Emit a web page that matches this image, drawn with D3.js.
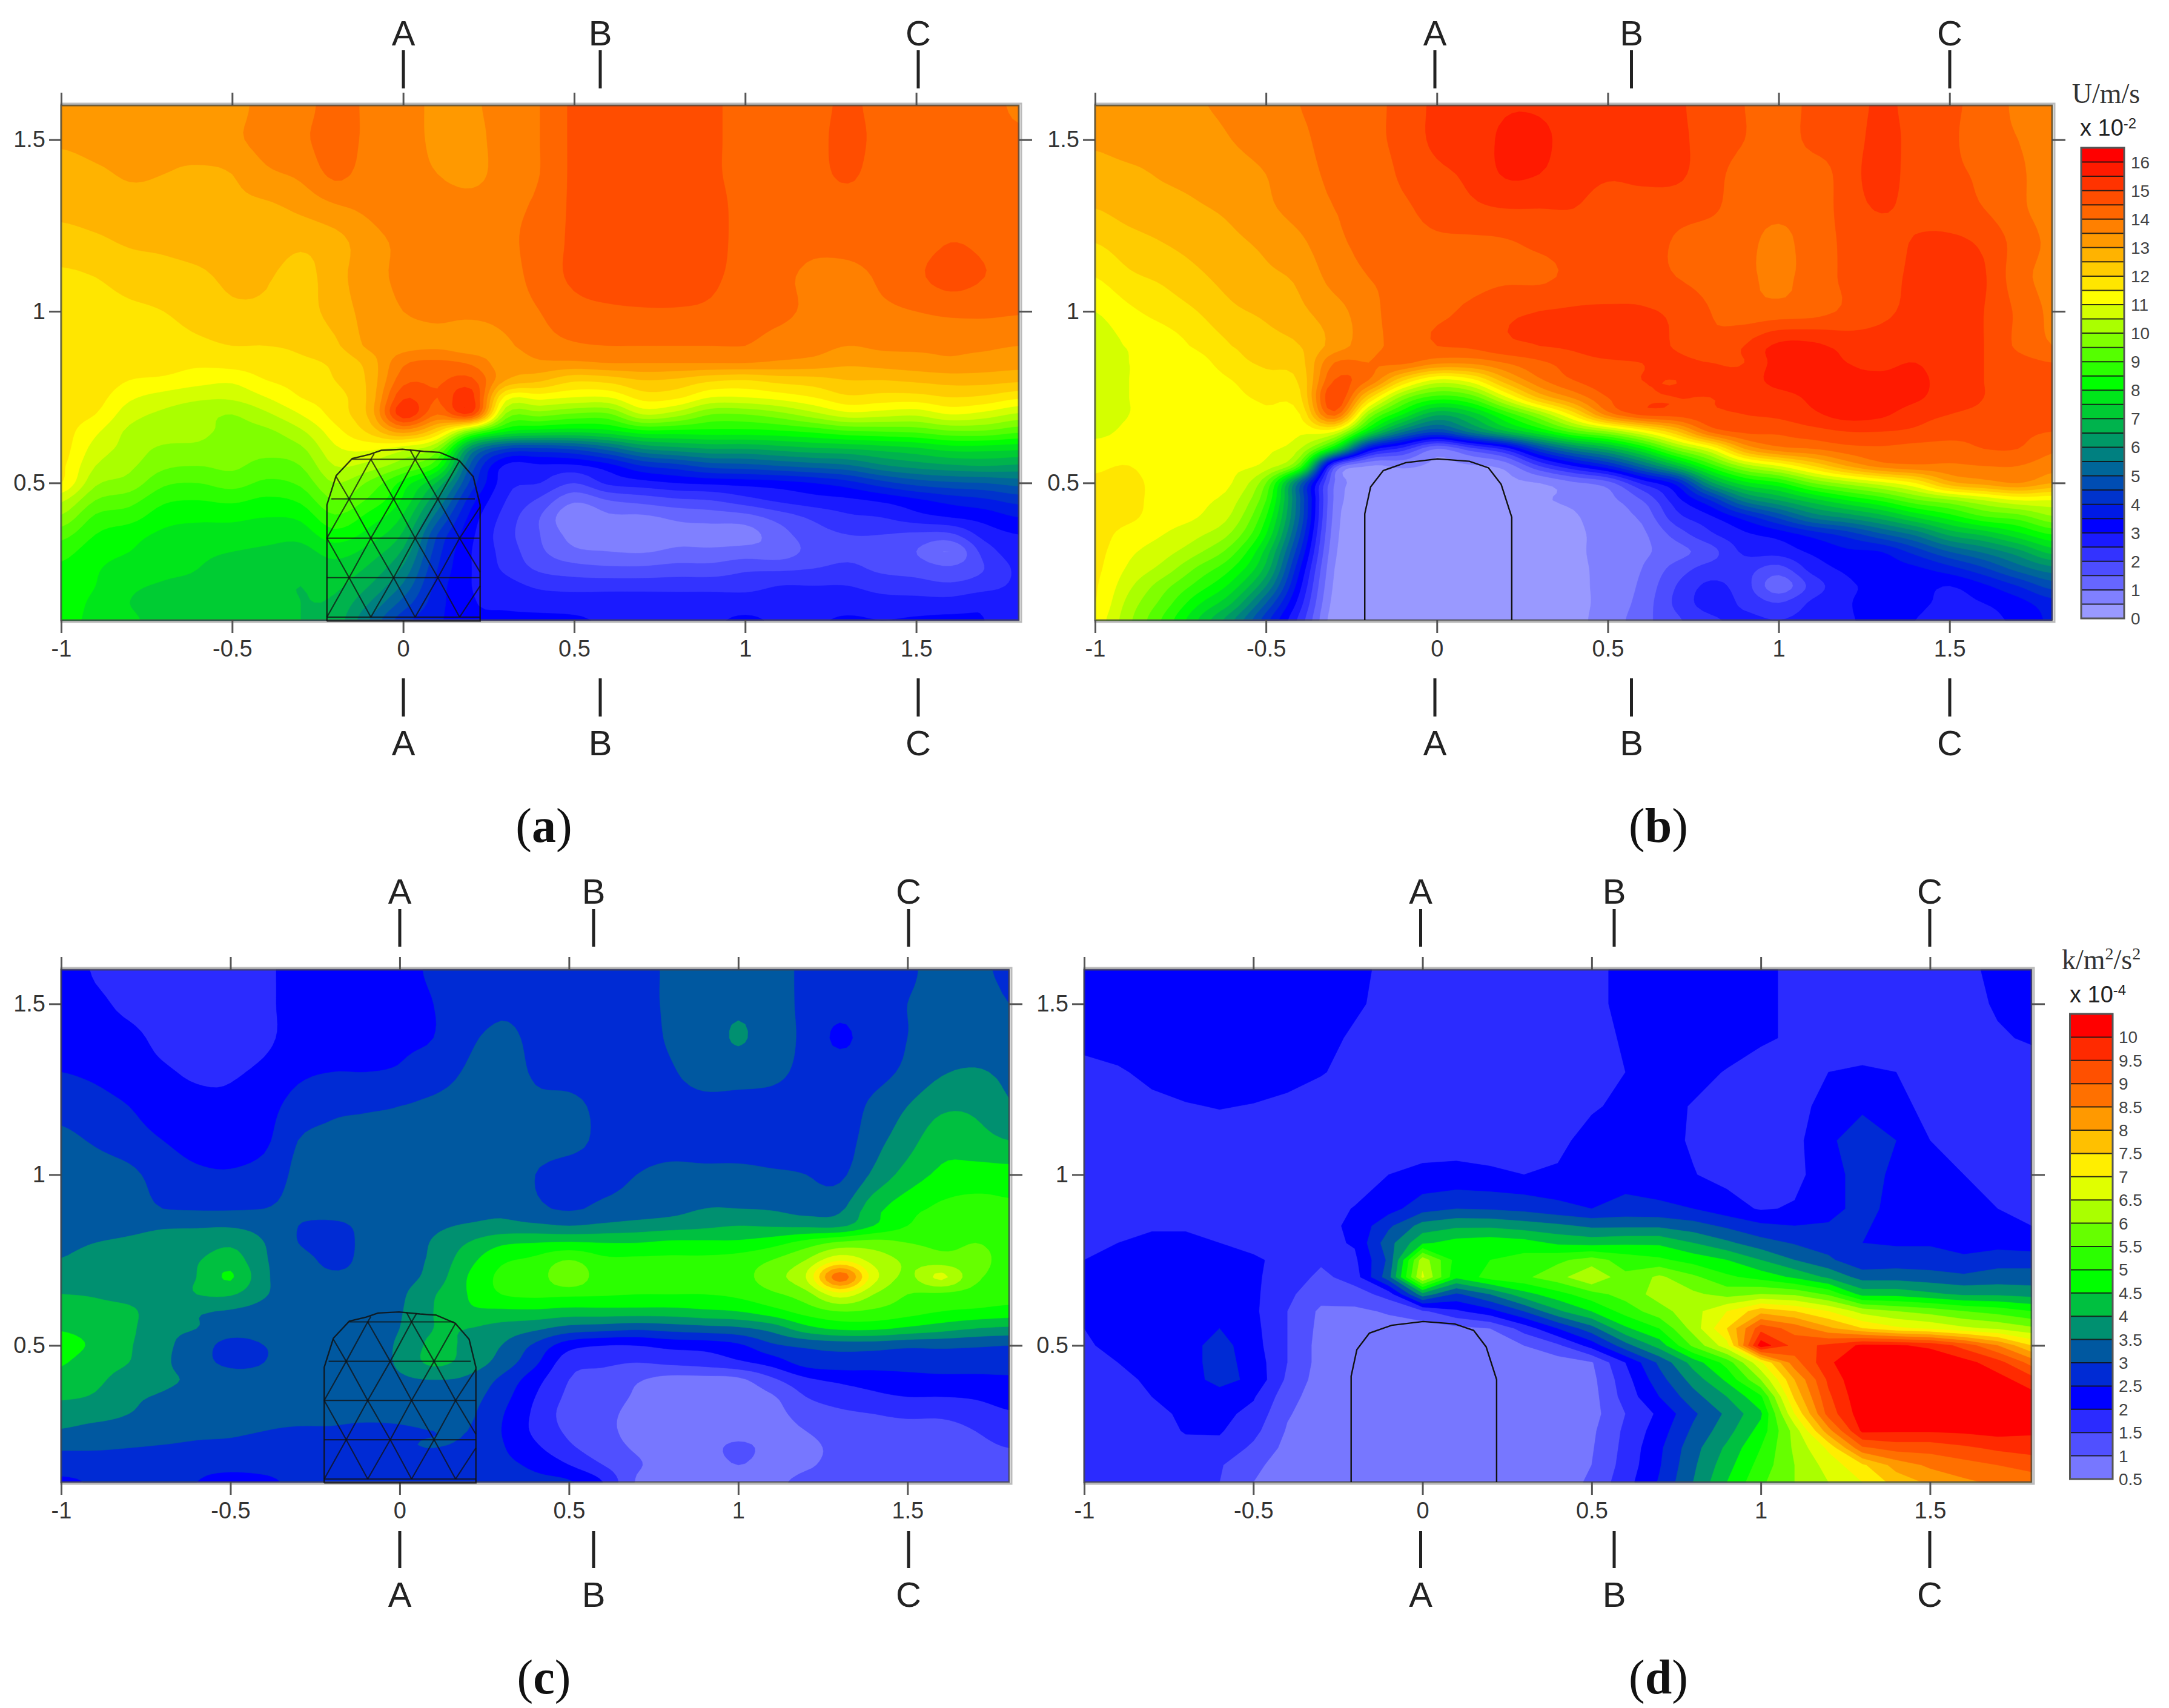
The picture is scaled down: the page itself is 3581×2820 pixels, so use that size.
<!DOCTYPE html>
<html><head><meta charset="utf-8">
<script src="https://cdn.jsdelivr.net/npm/d3@7"></script>
<style>html,body{margin:0;background:#fff}svg{display:block}</style></head><body>
<svg id="c" width="3581" height="2820"></svg>
<script>
const xGrid=[-1,-.9,-.8,-.7,-.6,-.5,-.4,-.3,-.2,-.1,0,.1,.2,.3,.4,.5,.6,.7,.8,.9,1,1.1,1.2,1.3,1.4,1.5,1.6,1.7,1.8];
const yGrid=[1.6,1.5,1.4,1.3,1.2,1.1,1,.9,.85,.8,.75,.7,.65,.6,.55,.5,.45,.4,.35,.3,.25,.2,.15,.1];
const uA=[
[13.3,13.3,13.3,13.3,13.3,13.3,13.7,13.8,14.2,13.9,13.7,13.4,13.4,13.8,14,14.6,14.8,14.8,14.8,14.6,14.3,14.2,14.3,14.6,14.3,14.3,14.3,14.2,13.9],
[13.1,13.2,13.2,13.2,13.3,13.4,13.7,13.9,14.2,13.9,13.7,13.4,13.3,13.8,14,14.6,14.8,14.8,14.8,14.6,14.3,14.2,14.3,14.7,14.3,14.3,14.3,14.2,14.1],
[12.7,12.9,13.05,13,12.9,13,13.4,13.6,14.1,13.8,13.7,13.5,13.3,13.8,14,14.6,14.8,14.8,14.8,14.6,14.3,14.2,14.3,14.6,14.2,14.2,14.2,14.2,14.2],
[12.6,12.7,12.8,12.8,12.8,12.9,12.9,13.1,13.4,13.6,13.8,13.8,13.8,13.9,14.1,14.6,14.8,14.8,14.8,14.7,14.3,14.2,14.2,14.2,14.2,14.2,14.3,14.3,14.3],
[12.3,12.4,12.55,12.6,12.7,12.8,12.8,12.6,12.8,13.3,13.6,13.7,13.8,13.9,14.2,14.6,14.8,14.8,14.8,14.7,14.3,14.2,14.1,14.2,14.3,14.3,14.5,14.4,14.2],
[11.9,12,12.2,12.3,12.4,12.6,12.55,12.3,12.8,13.3,13.6,13.7,13.7,13.8,14.2,14.6,14.8,14.8,14.8,14.6,14.3,14.1,13.9,13.8,14.1,14.4,14.7,14.5,14.3],
[11.8,11.8,11.9,12,12.2,12.4,12.4,12.3,12.7,13.2,13.5,13.6,13.6,13.7,14,14.3,14.4,14.45,14.45,14.4,14.2,14.1,13.9,13.8,13.9,14,14.1,14.1,14.05],
[11.6,11.6,11.7,11.8,11.9,12,12,12.1,12.4,13.1,13.3,13.4,13.2,13.4,13.8,13.95,14,14,14,14,14,13.8,13.7,13.5,13.6,13.6,13.6,13.6,13.5],
[11.7,11.7,11.7,11.7,11.6,11.7,11.8,11.9,12.1,12.7,13.9,14.1,13.9,13.2,13.4,13.4,13.5,13.5,13.5,13.5,13.5,13.4,13.3,13.1,13.2,13.3,13.4,13.3,13.2],
[11.8,11.8,11.5,11.4,11.2,11.1,11.5,11.7,12,12.6,14.3,14.4,14.6,13,12.6,12.1,12.2,12.5,12.4,12.1,12,12.2,12.3,12.5,12.5,12.6,12.7,12.7,12.6],
[11.8,11.7,11.1,10.8,10.6,10.6,11,11.5,11.8,12.6,14.9,14.5,15.2,11.3,11.2,11,11,11.7,11.6,11,11,11.2,11.5,11.9,11.8,11.8,12,11.9,11.6],
[11.7,11.5,10.7,10.4,10.2,10,10.4,11,11.7,12.6,15.3,14,14.8,9.9,9.7,9.4,9.4,10.5,10.2,9.5,9.5,9.8,10.3,10.8,10.7,10.6,11,10.8,10.4],
[11.7,11.1,10.4,10.3,10.1,9.9,9.9,10.4,11.3,12.1,13.2,12,9.5,8,7.7,7.6,7.8,8.3,8.3,8.3,8.3,8.4,8.6,8.9,9,9.1,9.4,9.4,9.1],
[11.7,10.8,10.3,9.9,9.9,9.8,9.7,9.9,10.9,11.1,10.7,9.8,6,4.5,4.4,4.6,5.2,6,6.3,6.5,6.5,6.7,6.9,7,7.2,7.4,7.7,7.7,7.6],
[11.6,10.5,10.1,9.6,9.5,9.6,9.3,9.5,10.5,10.3,9.6,8.5,4.8,2.9,2.9,2.9,3.3,4,4.3,4.7,4.8,5,5.2,5.4,5.9,6.2,6.4,6.5,6.4],
[11.5,10.1,9.8,9.1,9,9.2,8.9,9.1,10,9.4,8.3,6.9,4.3,2.7,2.5,2,2.6,2.8,3,3.1,3.2,3.3,3.5,3.8,4.3,4.7,4.9,5,5.2],
[10.6,9.5,9.2,8.6,8.5,8.6,8.4,8.6,9.5,8.9,7.9,6,3.7,2.5,1.9,1.1,1.5,1.7,1.9,2,2.3,2.6,2.8,2.9,3.1,3.4,3.7,3.9,4.2],
[9.9,8.9,8.7,8.2,8.1,8.1,8,8.1,8.9,8.3,7.4,5.2,3.3,2.3,1.5,.55,.9,.9,1.1,1.2,1.3,1.7,2.1,2.4,2.5,2.8,3,3.2,3.5],
[9.2,8.5,8.2,7.9,7.8,7.8,7.7,7.7,8.3,7.8,6.9,4.5,3.1,2.2,1.5,.8,.8,.6,.85,.8,.8,1.3,1.8,2,2,1.9,1.9,2.7,3],
[8.7,8.2,8,7.7,7.6,7.5,7.4,7.3,7.7,7.3,6.4,4.2,3,2.3,1.6,1.1,1,.95,1.1,1.1,1.2,1.2,1.7,1.9,1.8,1.5,1,2.2,2.8],
[8.4,8.05,7.8,7.6,7.5,7.3,7.2,7.1,7.3,6.9,5.9,4,3,2.4,1.9,1.7,1.6,1.6,1.7,1.7,1.9,1.9,2,2.1,1.9,1.8,1.6,2,2.6],
[8.3,8,7.6,7.45,7.4,7.2,7.1,7,7.1,6.5,5.4,3.8,3,2.7,2.4,2.3,2.3,2.3,2.3,2.3,2.3,2.5,2.5,2.5,2.3,2.2,2.1,2.3,2.6],
[8.2,7.9,7.5,7.3,7.3,7.2,7.1,7,6.9,6,4.8,3.7,3.05,2.9,2.8,2.8,2.8,2.8,2.8,2.8,2.8,2.8,2.8,2.8,2.7,2.7,2.7,2.9,2.7],
[8.1,7.9,7.6,7.3,7.25,7.2,7.1,7,6.8,5.5,4.2,3.6,3.1,3.1,3.1,3.05,2.95,2.95,2.95,2.95,3.05,2.95,2.95,3.05,3,3.05,3.1,3,2.8]];
const uB=[
[13.5,13.2,13.2,13.45,13.6,13.8,14,14.2,14.3,14.7,15.1,15.2,15.45,15.45,15.3,15.2,15.2,15.1,14.7,14.5,14.3,14.6,14.7,15.1,14.8,14.6,14.3,13.9,13.7],
[13.1,13.2,13.2,13.3,13.5,13.7,13.9,14.2,14.3,14.7,15.1,15.2,15.6,15.6,15.3,15.2,15.2,15.1,14.8,14.5,14.3,14.6,14.7,15.2,14.8,14.6,14.2,14,13.7],
[12.8,12.9,13.05,13.15,13.3,13.5,13.8,14.1,14.1,14.6,14.9,15.1,15.55,15.5,15.2,15.05,15.1,15.1,14.7,14.3,14.3,14.3,14.7,15.3,14.7,14.6,14.4,14.1,13.7],
[12.5,12.7,12.8,12.95,13.1,13.4,13.7,14,14.1,14.4,14.7,14.9,15,15,15,14.8,14.8,14.7,14.6,14.2,14.1,14.2,14.7,15.05,14.8,14.7,14.5,14.1,13.8],
[12,12.3,12.5,12.7,12.9,13.1,13.4,13.9,14.1,14.3,14.4,14.4,14.45,14.6,14.7,14.7,14.7,14.45,14.2,14.1,13.9,14.2,14.6,14.7,15.05,15.1,14.9,14.3,13.9],
[11.5,11.9,12.1,12.4,12.7,12.9,13.1,13.7,14,14.1,14.2,14.3,14.4,14.4,14.6,14.6,14.7,14.5,14.3,14.1,13.9,14.2,14.6,14.8,15.1,15.2,15.05,14.2,13.85],
[11,11.4,11.7,12,12.4,12.6,12.9,13.3,13.8,14.3,14.4,14.6,14.9,15,15.05,15.1,15.05,14.9,14.5,14.2,14.2,14.3,14.6,14.9,15.1,15.2,15,14.4,13.9],
[10.7,11.05,11.2,11.6,12,12.3,12.5,13.2,13.8,14.2,14.5,14.6,14.9,15,15.1,15.4,15.2,14.95,14.6,15,15.6,15.6,15.3,15.2,15.2,15.2,15,14.4,14],
[10.7,11,11.1,11.3,11.8,12.1,12.3,14,14,14.1,13.6,13.6,14,14.4,14.7,14.9,15,15.1,15,15,15.7,15.7,15.5,15.4,15.5,15.2,15,14.7,14.5],
[10.7,11,11.1,11.2,11.5,11.8,12.1,14.5,14,12.1,10.9,11.3,12.8,13.9,14.5,14.8,15,15,15.1,15.2,15.7,15.7,15.6,15.6,15.6,15.3,15,14.8,14.7],
[10.7,11,11.1,11.2,11.4,11.6,11.9,15,12.2,9.8,8.8,9.2,10.9,12.6,13.6,14.5,14.9,15,15,15.1,15.3,15.6,15.8,15.8,15.6,15.2,15,14.8,14.7],
[10.7,11,11.1,11.2,11.3,11.4,11.5,14.2,10,8,6.6,7.2,8.6,10,11.7,13.7,14.6,14.7,14.9,15,15.1,15.4,15.7,15.6,15.2,15,14.9,14.8,14.7],
[10.85,11.1,11.1,11.3,11.2,11.3,11.1,11,7.8,5.6,4.6,5.7,6.9,8,9.2,10,11.1,12.4,14.1,14.6,14.6,14.8,15,15,14.9,14.7,14.6,14.6,14.5],
[11.2,11.2,11.1,11.3,11.2,11.1,10.5,7.8,3.5,2.3,1,1.8,2.7,4.5,5.8,6.7,8,9.7,11,13,13.8,14,14.3,14.4,14.3,14.3,14.5,14.5,14.1],
[11.4,11.5,11.1,11.2,11.1,10.8,9,1.8,.5,.6,.4,.45,.7,2,3,3.9,5.3,6.9,8.7,10.2,11,12,13,13.7,13.9,13.9,14,14,13.7],
[11.6,11.7,11.2,11.2,11,9.5,5.2,1,.4,.4,.3,.35,.4,.5,.9,1.3,2.6,3.7,6.3,7.8,8.4,9.5,10.2,10.8,11.5,12.8,13.2,13.5,13],
[11.7,11.7,11.2,11.1,10.7,9,5,.9,.35,.35,.3,.3,.35,.45,.6,.85,1.5,2.8,4,5.7,6.5,7.3,8,8.6,9.4,9.9,10.5,11,11],
[11.7,11.6,11.2,11,10.4,8.5,4.9,.8,.3,.3,.3,.3,.3,.4,.45,.8,1.1,2.3,2.9,3.7,4.6,5.6,6.1,6.7,7.5,8.2,8.9,9.2,9.9],
[11.7,11.3,11,10.6,9.9,8,4.5,.7,.3,.3,.25,.25,.3,.35,.4,.7,.9,1.7,2.4,2.9,3.2,3.7,4.2,4.9,5.6,6.6,7.1,7.8,8.5],
[11.65,11.1,10.7,10.1,9.2,7.3,4,.6,.3,.3,.25,.25,.3,.35,.4,.7,.9,1.3,1.8,2.6,2.7,3.1,3.4,3.5,4.2,5,5.6,6.3,7.2],
[11.6,10.9,10.3,9.4,8.5,6.8,3.5,.5,.25,.25,.25,.25,.3,.3,.4,.65,1,1.7,2.2,2.2,1.8,2.7,3.1,3.3,3.4,3.8,4.4,5.2,5.8],
[11.55,10.6,9.7,8.8,7.8,6,3.1,.4,.2,.2,.2,.2,.25,.3,.4,.65,1.1,2,2.6,2.2,1.2,2.2,2.9,3.1,3.2,3,3.4,4,4.7],
[11.5,10.3,9.3,8.1,7,5,2.7,.3,.2,.2,.2,.2,.25,.3,.4,.65,1.2,2.1,2.7,2.4,2,2.6,2.95,3.2,3.1,2.9,3,3.3,3.8],
[11.3,10.1,8.9,7.5,6.1,4.2,2.3,.2,.2,.2,.2,.2,.25,.3,.4,.7,1.3,1.9,2.4,2.6,2.5,2.7,2.95,3.1,3,2.8,2.9,3.1,3.6]];
const kC=[
[2.3,1.95,1.8,1.8,1.75,1.8,1.9,2.2,2.3,2.3,2.4,2.55,2.7,2.8,2.8,2.85,2.85,2.9,3.05,3.2,3.3,3.2,2.9,2.8,2.85,2.95,3.1,3.1,2.9],
[2.3,2.1,1.9,1.8,1.75,1.8,1.9,2.2,2.3,2.3,2.4,2.5,2.7,2.9,2.85,2.85,2.85,2.9,3.05,3.2,3.4,3.2,2.9,2.7,2.85,3,3.1,3.2,3],
[2.4,2.2,2.1,1.9,1.8,1.75,1.9,2.2,2.3,2.35,2.45,2.5,2.9,3.1,2.9,2.8,2.8,2.8,3.05,3.2,3.55,3.2,2.9,2.4,2.8,3,3.2,3.2,3.1],
[2.5,2.4,2.2,2.05,1.95,1.95,2.1,2.4,2.5,2.5,2.55,2.75,3.05,3.2,2.95,2.85,2.8,2.8,2.95,3.2,3.2,3.1,2.9,2.8,2.85,3.1,3.45,3.55,3.4],
[2.85,2.7,2.5,2.2,2.1,2.1,2.3,2.7,2.9,2.95,3,3.1,3.2,3.3,3.1,3.1,2.9,2.8,2.8,2.85,2.85,2.85,2.8,2.75,3.1,3.5,3.9,3.9,3.55],
[3.1,2.95,2.75,2.5,2.3,2.3,2.4,3,3.1,3.1,3.1,3.2,3.2,3.2,3.2,3.15,2.9,2.85,2.85,2.85,2.85,2.85,2.85,2.75,3.3,3.8,4.3,4.2,4],
[3.3,3.2,3.1,2.8,2.6,2.55,2.7,3.1,3.2,3.2,3.2,3.2,3.3,3.3,3,2.8,2.85,3,3.1,3.1,3.1,3.05,3,2.9,3.6,4.2,4.6,4.7,4.7],
[3.4,3.3,3.2,3,2.95,2.95,3,3.1,3.2,3.2,3.2,3.3,3.3,3.4,3.1,2.95,3.1,3.2,3.3,3.5,3.5,3.45,3.3,3.4,4.3,4.8,5.1,5.2,5.1],
[3.3,3.35,3.4,3.45,3.45,3.45,3.3,3,2.9,3.1,3.2,3.4,3.55,3.65,3.6,3.5,3.6,3.7,3.8,3.9,4,3.95,3.9,3.9,4.5,5,5.3,5.4,5.3],
[3.35,3.5,3.55,3.6,3.7,3.9,3.5,3,2.8,3.1,3.2,3.55,4,4.4,4.5,4.55,4.5,4.5,4.6,4.6,4.6,4.8,5.2,5.6,5.7,5.5,5.4,5.5,5.4],
[3.52,3.7,3.6,3.7,3.95,4.25,3.55,3.2,2.9,3.1,3.3,3.6,4.3,4.9,5.1,5.5,5.1,5.1,5.1,5.1,5.2,5.5,6,6.9,6.3,5.9,5.7,5.6,5.4],
[3.7,3.65,3.7,3.8,4,4.55,3.6,3.2,3.05,3.1,3.3,3.7,4.5,5.1,5.2,5.9,5.2,5.4,5.2,5.2,5.3,5.8,6.5,8.8,6.7,5.9,6.6,5.6,5.4],
[4,3.95,3.8,3.7,4,4.05,3.55,3.2,3.05,3.1,3.4,3.95,4.5,5,5.1,5.1,5.05,5,5,5,5.1,5.4,5.8,6.8,6,5.5,5.4,5.3,5.2],
[4.2,4.15,4.1,3.65,3.55,3.45,3.3,3.1,3.05,3.1,3.45,4,4.4,4.4,4.4,4.3,4.3,4.3,4.3,4.4,4.5,4.8,5.2,5.5,5.4,5.2,5,4.9,4.8],
[4.45,4.3,4.1,3.6,3.5,3.3,3.2,3.1,3.05,3.1,3.5,4,4,3.8,3.6,3.3,3.2,3.1,3.2,3.3,3.4,3.7,4.3,4.6,4.6,4.4,4.2,4,3.9],
[4.7,4.4,4.05,3.6,3.3,2.8,3,3.1,3.05,3.1,3.6,4.1,3.9,3.5,2.9,2.2,2,2,2.15,2.2,2.4,2.9,3.1,3.2,3.2,3.1,3.1,3.05,3],
[4.55,4.2,4,3.6,3.2,2.9,3,3.1,3.05,3.1,3.6,4.1,3.8,3.3,2.6,1.7,1.6,1.5,1.6,1.7,1.9,2.2,2.7,2.8,2.75,2.75,2.8,2.8,2.8],
[4.3,4.1,3.8,3.6,3.4,3.2,3.1,3.1,3.1,3.15,3.4,3.5,3.4,2.9,2.2,1.5,1.3,1.05,.85,.85,.9,1.4,1.9,2.1,2.2,2.3,2.35,2.35,2.4],
[4.05,3.95,3.6,3.45,3.3,3.2,3.1,3.1,3.1,3.15,3.2,3.2,3.2,2.7,2,1.4,1.2,.95,.8,.8,.8,.95,1.5,1.75,1.9,2,2,2.05,2.2],
[3.8,3.7,3.5,3.35,3.25,3.15,3.1,3.1,3.1,3.1,3.1,3.15,3.1,2.55,1.9,1.3,1.1,.9,.8,.75,.8,.85,1.2,1.4,1.5,1.6,1.6,1.75,1.95],
[3.45,3.3,3.25,3.2,3.1,3.05,3,2.95,2.95,2.9,2.95,3,3,2.5,1.9,1.4,1.1,.9,.8,.75,.7,.8,1,1.2,1.3,1.3,1.3,1.5,1.8],
[3.05,3.05,3,2.95,2.9,2.9,2.85,2.75,2.8,2.85,2.95,3,2.9,2.55,2.1,1.6,1.2,.95,.8,.75,1.15,.8,.9,1.1,1.2,1.2,1.2,1.3,1.5],
[2.75,2.7,2.7,2.7,2.6,2.6,2.6,2.6,2.6,2.7,2.75,2.75,2.7,2.6,2.4,2,1.5,1.05,.85,.75,1,.8,.95,1.1,1.15,1.15,1.15,1.15,1.2],
[2.4,2.55,2.6,2.55,2.5,2.4,2.45,2.55,2.55,2.6,2.6,2.6,2.6,2.6,2.6,2.55,2,.95,.8,.8,.8,.9,1.1,1.1,1.1,1.1,1.1,1.1,1.15]];
const kD=[
[2.3,2.3,2.3,2.3,2.3,2.3,2.3,2.2,2.1,1.9,1.8,1.8,1.8,1.8,1.8,1.9,2.1,2.2,2.2,2.2,2.1,1.9,1.8,1.8,1.8,1.8,1.9,2.1,2.2],
[2.3,2.3,2.3,2.3,2.3,2.3,2.3,2.2,2.05,1.9,1.8,1.8,1.8,1.8,1.8,1.9,2.1,2.2,2.2,2.2,2.1,1.9,1.8,1.8,1.8,1.8,1.85,2.05,2.2],
[2.1,2.2,2.3,2.3,2.3,2.3,2.2,2.1,1.95,1.9,1.8,1.8,1.8,1.8,1.8,1.85,2.05,2.2,2.2,2.15,2.05,1.95,1.8,1.8,1.8,1.8,1.8,1.95,2.05],
[1.9,1.95,2.1,2.2,2.2,2.2,2.15,2.02,1.9,1.85,1.8,1.8,1.8,1.8,1.8,1.85,2,2.1,2.1,1.98,1.85,1.85,2,2.05,2,1.85,1.8,1.8,1.8],
[1.75,1.8,1.9,1.97,2.02,1.98,1.9,1.85,1.85,1.8,1.8,1.8,1.8,1.8,1.8,1.95,2.1,2.1,1.98,1.85,1.8,1.9,2.1,2.4,2.1,1.9,1.85,1.8,1.75],
[1.7,1.7,1.75,1.8,1.8,1.8,1.8,1.8,1.8,1.8,1.8,1.85,1.85,1.85,1.9,2.15,2.2,2.15,1.95,1.85,1.8,1.85,2.4,2.8,2.5,2,1.9,1.85,1.8],
[1.7,1.7,1.7,1.7,1.7,1.7,1.7,1.7,1.8,2,2.1,2.1,2.05,2,2.05,2.2,2.3,2.2,2.02,1.85,1.8,1.85,2.3,2.7,2.4,2.2,2,1.9,1.8],
[1.7,1.7,1.7,1.7,1.7,1.7,1.7,1.85,2.02,2.3,2.8,3,2.95,2.85,2.65,2.5,2.65,2.6,2.5,2.2,1.95,2.05,2.3,2.7,2.3,2.2,2.1,2,1.98],
[1.7,1.8,1.95,1.95,1.85,1.8,1.8,1.85,2.1,2.9,3.7,3.9,3.9,3.75,3.6,3.4,3.4,3.4,3.2,2.9,2.6,2.5,2.55,2.6,2.2,2.15,2.1,2.05,2],
[1.8,2,2.1,2.1,2,1.9,1.8,1.85,2.05,3.3,4.4,4.7,4.8,4.7,4.4,4.3,4.4,4.4,4,3.6,3.2,2.95,2.75,2.5,2.45,2.45,2.4,2.3,2.2],
[2,2.1,2.2,2.2,2.15,2.05,1.9,1.6,1.9,3.1,6.3,4.8,5,5.2,5.4,5.7,5.3,5.1,4.8,4.5,4,3.5,3.1,2.6,2.7,2.7,2.55,2.8,2.8],
[2.1,2.2,2.2,2.2,2.2,2.05,1.85,1.35,1.75,3.3,6.6,4.6,5.2,5.4,5.8,6.5,5.6,6.1,5.6,5.1,4.8,4.4,3.9,3.3,3.3,3.2,3.1,3.2,3.2],
[2.1,2.2,2.2,2.2,2.2,2.1,1.6,1.2,1.25,1.7,3.8,2.9,3.5,4.3,4.8,5.3,5.7,6.2,6.1,5.8,6,5.9,5.4,4.3,4.3,4.1,3.9,3.9,3.8],
[2.05,2.2,2.2,2.2,2.25,2.1,1.5,.9,.9,1.05,1.4,1.9,2.3,3,3.9,4.5,5.2,5.8,6.3,7,7.8,7.5,7,6.3,6,5.8,5.5,5.3,5],
[2,2.2,2.2,2.3,2.5,2.15,1.5,.85,.8,.8,.7,.85,1,1.7,2.5,3.3,4.4,5,6.2,7.5,9.3,8.8,8.1,7.5,7.1,6.9,6.6,6.4,6.1],
[1.95,2.1,2.2,2.3,2.7,2.2,1.5,.8,.7,.7,.7,.7,.8,1,1.4,2.2,3.3,4.2,5.6,6.8,10.3,9.3,9.6,10.1,10.05,9.9,9.3,8.5,7.5],
[1.85,2,2.2,2.3,2.7,2.3,1.5,.8,.7,.7,.7,.7,.7,.7,.75,.95,2,3.1,4.2,5.2,6.9,8.8,9.9,10.5,10.5,10.4,10.2,9.7,8.8],
[1.75,1.85,2.1,2.3,2.65,2.4,1.4,.75,.7,.7,.7,.7,.7,.7,.7,.85,1.8,2.8,3.7,4.6,6,8,9.6,10.5,10.6,10.5,10.4,10.2,9.7],
[1.7,1.75,2,2.2,2.3,2.05,1.2,.7,.7,.7,.7,.7,.7,.7,.7,.8,1.7,2.5,3.3,4,4.9,7.6,9.4,10.4,10.6,10.6,10.6,10.5,10.2],
[1.7,1.7,1.85,2.1,2.15,1.85,1.05,.7,.7,.7,.7,.7,.7,.7,.7,.8,1.5,2.1,2.9,3.6,4.4,7,9.2,10.3,10.5,10.5,10.5,10.5,10.3],
[1.7,1.7,1.7,2.05,2.05,1.65,.95,.7,.7,.7,.7,.7,.7,.7,.7,.9,1.6,2.25,3.1,3.8,4.7,6.2,8.3,10.1,10.05,10.05,10.1,10.2,10.1],
[1.7,1.7,1.7,1.8,1.85,1.4,.85,.7,.7,.7,.7,.7,.7,.7,.7,.95,1.65,2.4,3.3,4.1,5,6.1,7.1,8.9,9.2,9.2,9.4,9.6,9.7],
[1.7,1.7,1.7,1.7,1.55,1.1,.8,.7,.7,.7,.7,.7,.7,.7,.7,1,1.7,2.45,3.4,4.3,5.2,6,6.7,7.4,8.2,8.6,8.8,9,9.2],
[1.7,1.7,1.7,1.7,1.5,1,.75,.7,.7,.7,.7,.7,.7,.7,.7,1.1,1.8,2.55,3.5,4.5,5.4,6,6.5,7,7.7,8.1,8.4,8.6,8.7]];
const uLevels=d3.range(0,16.5,.5);
const uColors=["#9999ff","#8080ff","#6666ff","#4d4dff","#3333ff","#1a1aff","#0000ff","#001ae6","#0033cc","#004db3","#006699","#008080","#009966","#00b34d","#00cc33","#00e61a","#00ff00","#2bff00","#55ff00","#80ff00","#aaff00","#d4ff00","#ffff00","#ffe600","#ffcc00","#ffb300","#ff9900","#ff8000","#ff6600","#ff4d00","#ff3300","#ff1a00","#ff0000"];
const kLevels=d3.range(.5,10.5,.5);
const kColors=["#7777ff","#5050ff","#2b2bff","#0000ff","#002bd4","#0058a0","#009070","#00c040","#00ff00","#2bff00","#66ff00","#aaff00","#e0ff00","#ffee00","#ffc000","#ff9900","#ff7000","#ff5000","#ff2a00","#ff0000"];
const uLegendLabels=[0,1,2,3,4,5,6,7,8,9,10,11,12,13,14,15,16];
const kLegendLabels=[.5,1,1.5,2,2.5,3,3.5,4,4.5,5,5.5,6,6.5,7,7.5,8,8.5,9,9.5,10];
const xTicks=[-1,-.5,0,.5,1,1.5], yTicks=[.5,1,1.5];
const archMesh=[[-.223,.0975],[-.223,.436],[-.196,.521],[-.149,.571],[-.099,.583],[-.064,.595],[-.002,.598],[.06,.592],[.107,.589],[.164,.565],[.205,.518],[.225,.436],[.225,.0975],[-.223,.0975]];
const archPlain=[[-.211,.1],[-.211,.41],[-.194,.488],[-.157,.536],[-.091,.559],[.002,.57],[.095,.563],[.151,.544],[.188,.496],[.219,.4],[.219,.1]];
const meshLines=[
[[-.149,.569],[.16,.569]],[[-.21,.4535],[.21,.4535]],[[-.223,.339],[.225,.339]],[[-.223,.224],[.225,.224]],[[-.223,.109],[.225,.109]],
[[-.196,.518],[-.158,.4535],[-.0945,.339],[-.028,.224],[.035,.109]],
[[-.085,.585],[-.0945,.569],[-.158,.4535],[-.223,.339],[-.158,.224],[-.223,.109]],
[[-.0945,.569],[-.028,.4535],[.035,.339],[.1015,.224],[.165,.109]],
[[.02,.597],[.035,.569],[-.028,.4535],[-.0945,.339],[-.158,.224],[-.0945,.109]],
[[.05,.594],[.035,.569],[.1015,.4535],[.165,.339],[.225,.24]],
[[.165,.565],[.1015,.4535],[.035,.339],[-.028,.224],[-.0945,.109]],
[[.225,.43],[.165,.339],[.1015,.224],[.035,.109]],
[[.225,.2],[.165,.109]]];

const panels=[
 {data:uA,levels:uLevels,colors:uColors,fine:5,box:[101,1682,174,1024],cuts:[666,991,1516],top:[83,146,54],bot:[1120,1183,1226],mesh:true,cap:"a",capX:898,capY:1390},
 {data:uB,levels:uLevels,colors:uColors,fine:5,box:[1808,3388,174,1024],cuts:[2369,2693.5,3219],top:[83,146,54],bot:[1120,1183,1226],mesh:false,cap:"b",capX:2738,capY:1390},
 {data:kC,levels:kLevels,colors:kColors,fine:5,box:[101,1666,1601,2447],cuts:[660,980,1500],top:[1501,1563,1471],bot:[2528,2589,2632],mesh:true,cap:"c",capX:898,capY:2796},
 {data:kD,levels:kLevels,colors:kColors,fine:1,box:[1790,3354,1601,2447],cuts:[2345.5,2665,3186],top:[1501,1563,1471],bot:[2528,2589,2632],mesh:false,cap:"d",capX:2738,capY:2796}];

function refine(rows,f){
  const ny=rows.length,nx=rows[0].length;
  rows.forEach(r=>{if(r.length!==nx)throw new Error("bad row "+r.length)});
  const W=(nx-1)*f+1,H=(ny-1)*f+1,out=new Float64Array(W*H);
  const at=(j,i)=>rows[Math.max(0,Math.min(ny-1,j))][Math.max(0,Math.min(nx-1,i))];
  const cr=(a,b,c,d,t)=>b+.5*t*(c-a+t*(2*a-5*b+4*c-d+t*(3*(b-c)+d-a)));
  for(let Y=0;Y<H;Y++){const j=Math.min(ny-2,Math.floor(Y/f)),v=Y/f-j;
    for(let X=0;X<W;X++){const i=Math.min(nx-2,Math.floor(X/f)),u=X/f-i;
      const col=[-1,0,1,2].map(d=>cr(at(j+d,i-1),at(j+d,i),at(j+d,i+1),at(j+d,i+2),u));
      out[Y*W+X]=cr(col[0],col[1],col[2],col[3],v);}}
  return {W,H,out};
}
const svg=d3.select("#c");
const SANS="'Liberation Sans',Arial,sans-serif",SERIF="'Liberation Serif','Times New Roman',serif";
panels.forEach(p=>{
  const [x0,x1,y0,y1]=p.box;
  const x=d3.scaleLinear().domain([-1,1.8]).range([x0,x1]);
  const y=d3.scaleLinear().domain([.1,1.6]).range([y1,y0]);
  const g=svg.append("g");
  const {W,H,out}=refine(p.data,p.fine);
  const xI=d3.scaleLinear().domain(xGrid.map((_,i)=>i*p.fine)).range(xGrid.map(x)).clamp(true);
  const yI=d3.scaleLinear().domain(yGrid.map((_,i)=>i*p.fine)).range(yGrid.map(y)).clamp(true);
  const path=d3.geoPath(d3.geoTransform({point(a,b){this.stream.point(xI(a-.5),yI(b-.5));}}));
  g.append("rect").attr("x",x0).attr("y",y0-3).attr("width",x1-x0+4).attr("height",y1-y0+6).attr("fill","none").attr("stroke","#bbb").attr("stroke-width",3);
  g.append("rect").attr("x",x0).attr("y",y0).attr("width",x1-x0).attr("height",y1-y0).attr("fill",p.colors[0]);
  const cs=d3.contours().size([W,H]).thresholds(p.levels.slice(1))(Array.from(out));
  g.selectAll("path.b").data(cs).join("path").attr("class","b").attr("d",path)
    .attr("fill",(d,i)=>p.colors[i+1]).attr("stroke",(d,i)=>p.colors[i+1]).attr("stroke-width",.6);
  const style=s=>{s.selectAll(".domain").remove();s.selectAll("line").attr("stroke","#555").attr("stroke-width",3);
    s.selectAll("text").attr("font-family",SANS).attr("font-size",38).attr("fill","#333");};
  g.append("g").attr("transform",`translate(0,${y1})`).call(d3.axisBottom(x).tickValues(xTicks).tickSize(21).tickPadding(12).tickFormat(String)).call(style);
  g.append("g").attr("transform",`translate(0,${y0})`).call(d3.axisTop(x).tickValues(xTicks).tickSize(21).tickFormat("")).call(style);
  g.append("g").attr("transform",`translate(${x0},0)`).call(d3.axisLeft(y).tickValues(yTicks).tickSize(20).tickPadding(6).tickFormat(String)).call(style);
  g.append("g").attr("transform",`translate(${x1},0)`).call(d3.axisRight(y).tickValues(yTicks).tickSize(22).tickFormat("")).call(style);
  g.append("rect").attr("x",x0).attr("y",y0).attr("width",x1-x0).attr("height",y1-y0).attr("fill","none").attr("stroke","#444").attr("stroke-opacity",.75).attr("stroke-width",3);
  const line=d3.line().x(d=>x(d[0])).y(d=>y(d[1]));
  if(p.mesh){
    g.append("path").attr("d",line(archMesh)).attr("fill","none").attr("stroke","#111").attr("stroke-width",2.4).attr("stroke-opacity",.85);
    g.selectAll("path.m").data(meshLines).join("path").attr("class","m").attr("d",line).attr("fill","none").attr("stroke","#111").attr("stroke-width",2.2).attr("stroke-opacity",.75);
  } else {
    g.append("path").attr("d",line(archPlain)).attr("fill","none").attr("stroke","#111").attr("stroke-width",2.4);
  }
  ["A","B","C"].forEach((t,i)=>{
    const cx=p.cuts[i];
    [p.top,p.bot].forEach(m=>{
      g.append("line").attr("x1",cx).attr("x2",cx).attr("y1",m[0]).attr("y2",m[1]).attr("stroke","#222").attr("stroke-width",5);
      g.append("text").attr("x",cx).attr("y",m[2]+21).attr("text-anchor","middle").attr("font-family",SANS).attr("font-size",58).attr("fill","#222").text(t);
    });
  });
  const cap=g.append("text").attr("x",p.capX).attr("y",p.capY).attr("text-anchor","middle").attr("font-family",SERIF).attr("font-size",80).attr("fill","#111");
  cap.append("tspan").text("(");cap.append("tspan").attr("font-weight","bold").text(p.cap);cap.append("tspan").text(")");
});
function legend(levels,colors,labels,dom,yr,bx,labelX){
  const ly=d3.scaleLinear().domain(dom).range(yr);
  const g=svg.append("g");
  const tops=levels.map((l,i)=>i+1<levels.length?levels[i+1]:dom[1]);
  g.selectAll("rect").data(levels).join("rect").attr("x",bx[0]).attr("width",bx[1]-bx[0])
   .attr("y",(d,i)=>ly(tops[i])).attr("height",(d,i)=>ly(d)-ly(tops[i])).attr("fill",(d,i)=>colors[i]);
  g.selectAll("line").data(levels.slice(1)).join("line").attr("x1",bx[0]).attr("x2",bx[1]).attr("y1",d=>ly(d)).attr("y2",d=>ly(d)).attr("stroke","#111").attr("stroke-opacity",.85).attr("stroke-width",2);
  g.append("rect").attr("x",bx[0]).attr("y",yr[1]).attr("width",bx[1]-bx[0]).attr("height",yr[0]-yr[1]).attr("fill","none").attr("stroke","#555").attr("stroke-width",3);
  g.selectAll("text").data(labels).join("text").attr("x",labelX).attr("y",d=>ly(d)+10).attr("font-family",SANS).attr("font-size",28).attr("fill","#444").text(String);
}
legend(uLevels,uColors,uLegendLabels,[0,16.5],[1021,244],[3436,3507],3518);
legend(kLevels,kColors,kLegendLabels,[.5,10.5],[2442,1674],[3417.5,3488],3498);
function head(cx,by,tx,txBy,parts,sup){
  const t=svg.append("text").attr("x",cx).attr("y",by).attr("text-anchor","middle").attr("font-family",SERIF).attr("font-size",46).attr("fill","#333");
  parts.forEach(q=>{const s=t.append("tspan").text(q[0]);if(q[1]){s.attr("font-size",28).attr("dy",-16)}else if(q[2]){s.attr("dy",16)}});
  const u=svg.append("text").attr("x",tx).attr("y",txBy).attr("font-family",SANS).attr("font-size",38).attr("fill","#222");
  u.append("tspan").text("x 10");u.append("tspan").attr("font-size",24).attr("dy",-12).text(sup);
}
head(3477,170,3434,224,[["U/m/s"]],"-2");
head(3469,1600,3417,1655,[["k/m"],["2",true],["/s",false,true],["2",true]],"-4");
</script></body></html>
